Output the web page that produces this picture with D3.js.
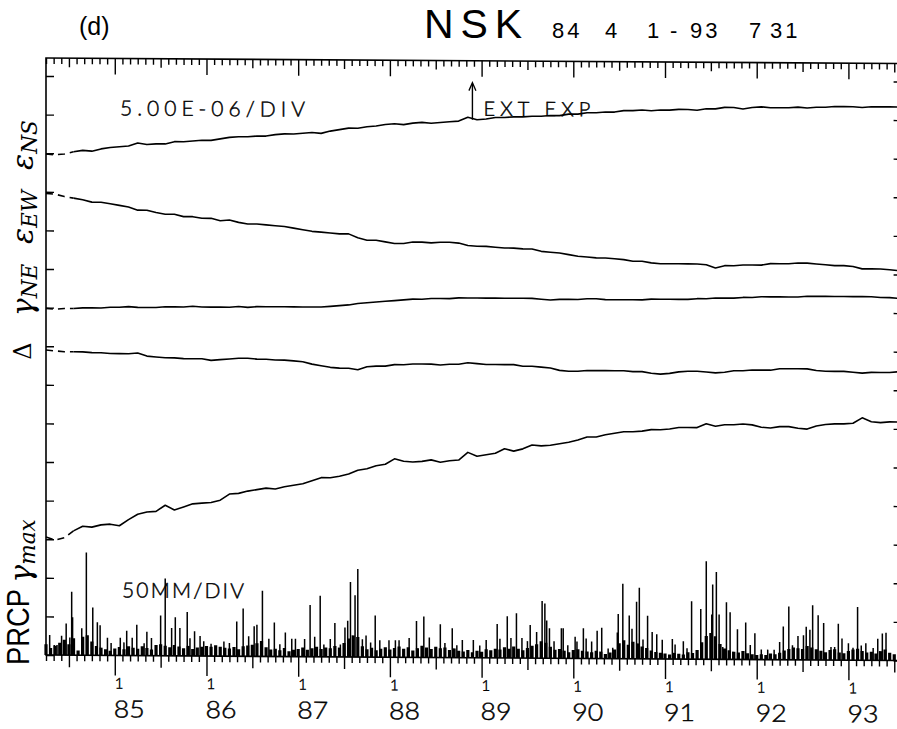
<!DOCTYPE html>
<html><head><meta charset="utf-8">
<script src="https://cdn.jsdelivr.net/npm/d3@7"></script>
<style>
body{margin:0;background:#fff;}
svg{display:block;}
.lt{font-family:Lato, "Liberation Sans", sans-serif;font-weight:300;fill:#000;stroke:#000;stroke-width:0.45;}
</style></head><body>
<svg id="c" width="897" height="729"></svg>
<script>
// ---- DATA (strain in 1e-6, plotted on a common 5e-6/DIV scale; time in decimal years 19xx) ----
const seriesStart = 84.25, seriesStep = 0.1;
const epsNS = [64.9,64.8,64.9,65.2,65.4,65.3,65.6,65.8,65.9,66.0,66.4,66.2,66.3,66.3,66.6,66.6,66.7,66.8,66.8,67.0,
67.2,67.3,67.3,67.4,67.4,67.6,67.7,67.7,67.8,67.9,67.8,68.1,68.3,68.5,68.5,68.7,68.8,69.0,69.1,69.0,
69.2,69.3,69.2,69.3,69.4,69.5,70.0,69.7,69.8,70.0,70.0,70.1,70.1,70.2,70.2,70.3,70.3,70.5,70.5,70.7,
70.7,70.8,70.8,71.0,71.0,71.1,71.0,71.1,71.1,71.2,71.2,71.1,71.3,71.3,71.5,71.5,71.3,71.5,71.6,71.5,
71.5,71.5,71.6,71.5,71.6,71.6,71.7,71.7,71.7,71.6,71.7,71.7,71.7,71.7];
const epsEW = [59.8,59.7,59.4,59.2,59.0,58.7,58.7,58.5,58.3,58.1,57.7,57.7,57.4,57.2,57.2,56.9,56.9,56.7,56.7,56.4,
56.5,56.2,56.0,56.0,55.9,55.8,55.7,55.5,55.3,55.1,55.0,54.9,54.8,54.8,54.3,54.0,54.0,53.8,53.6,53.6,
53.8,53.8,53.7,53.8,53.8,53.7,53.4,53.3,53.3,53.2,53.1,53.1,53.0,53.0,52.7,52.6,52.5,52.3,52.1,52.0,
51.9,51.9,51.8,51.7,51.5,51.5,51.3,51.2,51.2,51.2,51.2,51.2,51.1,50.7,51.0,51.0,51.1,51.1,51.1,51.3,
51.3,51.3,51.4,51.4,51.3,51.2,51.1,51.1,51.0,50.7,50.7,50.7,50.6,50.5];
const gamNE = [44.9,44.8,44.9,44.9,45.0,45.0,45.0,45.1,45.1,45.2,45.1,45.1,45.1,45.2,45.2,45.2,45.3,45.2,45.2,45.2,
45.2,45.3,45.2,45.3,45.3,45.3,45.3,45.3,45.3,45.3,45.3,45.4,45.5,45.6,45.8,45.9,46.0,46.1,46.2,46.3,
46.4,46.4,46.5,46.5,46.5,46.6,46.6,46.6,46.6,46.6,46.6,46.6,46.6,46.6,46.5,46.4,46.5,46.5,46.5,46.6,
46.6,46.5,46.5,46.5,46.5,46.5,46.6,46.6,46.6,46.6,46.6,46.7,46.7,46.8,46.8,46.8,46.9,46.9,47.0,47.0,
47.0,47.0,47.0,47.1,47.1,47.1,47.1,47.1,47.1,47.1,47.1,47.0,47.0,46.9];
const dilat = [39.5,39.4,39.3,39.3,39.3,39.2,39.2,39.1,39.1,39.1,39.2,38.8,38.7,38.6,38.6,38.5,38.5,38.5,38.3,38.4,
38.5,38.6,38.6,38.5,38.5,38.4,38.4,38.3,38.2,37.9,37.7,37.5,37.4,37.4,37.2,37.6,37.7,37.7,37.9,37.9,
38.0,38.0,38.0,37.9,38.0,38.0,38.2,38.1,38.0,38.0,38.0,38.0,37.8,37.8,37.7,37.6,37.3,37.2,37.2,37.3,
37.3,37.3,37.3,37.3,37.2,37.2,37.0,36.9,37.0,37.2,37.3,37.3,37.2,37.1,37.2,37.4,37.4,37.5,37.5,37.5,
37.7,37.7,37.7,37.7,37.5,37.4,37.4,37.4,37.3,37.2,37.3,37.3,37.3,37.4];
const gamMax = [15.3,14.9,15.2,16.1,16.7,16.6,16.9,17.0,16.8,17.6,18.3,18.6,18.7,19.5,18.9,19.3,19.7,19.8,19.9,20.2,
21.0,21.1,21.4,21.6,21.8,21.7,22.0,22.2,22.4,22.8,23.2,23.2,23.4,23.7,24.2,24.4,24.8,25.0,25.7,25.4,
25.3,25.4,25.6,25.3,25.5,25.6,26.6,26.1,26.3,26.5,27.1,26.8,27.1,27.6,27.5,27.6,27.8,28.0,28.3,28.7,
28.7,29.0,29.2,29.4,29.4,29.5,29.7,29.7,29.8,30.0,30.0,30.0,30.5,30.2,30.4,30.4,30.5,30.4,30.1,30.0,
30.2,30.2,30.0,29.9,30.3,30.5,30.6,30.6,30.7,31.4,30.9,30.8,30.9,30.9];
const dashedPoints = 4;

// precipitation, mm (background at 0.05-yr steps, plus individual heavy days)
const rainStart = 84.25, rainStep = 0.05;
const rainBg = [14,9,12,16,20,14,22,6,24,26,18,12,10,8,6,9,11,8,12,10,
9,12,10,8,14,15,13,11,14,12,10,13,9,11,12,13,12,14,12,11,
10,12,9,13,14,15,17,20,12,9,10,8,11,7,9,10,12,9,11,13,
10,12,11,14,12,18,24,28,26,14,10,12,9,11,13,10,12,14,11,13,
9,12,15,13,11,14,12,13,10,12,9,8,10,7,9,8,11,10,12,11,
14,12,15,12,10,13,16,18,22,20,15,11,12,10,8,11,12,10,9,8,
10,9,6,8,12,20,24,18,22,20,16,14,11,9,8,7,6,8,7,6,
9,8,12,22,30,34,30,20,14,12,10,9,11,8,7,6,7,6,8,7,
9,12,14,16,15,14,18,16,14,12,10,13,14,10,9,12,14,15,12,10,
11,9,12,14,10,8,6];
const rainDays = [
[84.29,26],[84.34,13],[84.37,13],[84.42,25],[84.47,41],[84.51,23],[84.53,82],[84.54,49],[84.64,35],[84.69,133],
[84.76,62],[84.81,43],[84.84,39],[84.92,23],[84.96,16],[85.06,23],[85.10,17],[85.13,32],[85.19,23],[85.24,40],
[85.32,16],[85.35,31],[85.40,23],[85.50,52],[85.55,100],[85.62,36],[85.66,50],[85.71,36],[85.79,57],[85.82,23],
[85.87,32],[85.93,26],[85.97,19],[86.05,16],[86.19,19],[86.25,17],[86.33,45],[86.40,62],[86.46,26],[86.52,39],
[86.55,41],[86.61,85],[86.68,23],[86.74,44],[86.80,16],[86.86,31],[86.93,23],[86.97,23],[87.07,23],[87.13,67],
[87.18,26],[87.24,79],[87.28,16],[87.35,23],[87.40,44],[87.46,16],[87.51,38],[87.54,47],[87.57,97],[87.62,80],
[87.65,114],[87.70,23],[87.74,28],[87.79,19],[87.84,54],[87.89,22],[87.99,22],[88.06,22],[88.10,22],[88.21,25],
[88.29,47],[88.37,53],[88.43,26],[88.55,43],[88.60,19],[88.68,38],[88.73,16],[88.79,23],[88.91,23],[88.98,16],
[89.05,23],[89.17,44],[89.20,25],[89.28,54],[89.32,26],[89.38,58],[89.44,26],[89.50,22],[89.53,43],[89.60,34],
[89.66,74],[89.69,71],[89.71,49],[89.74,39],[89.79,22],[89.87,39],[89.89,39],[89.94,17],[90.02,28],[90.04,22],
[90.11,39],[90.14,26],[90.20,22],[90.26,36],[90.31,40],[90.38,13],[90.43,14],[90.48,34],[90.49,58],[90.54,97],
[90.61,56],[90.64,39],[90.69,74],[90.72,92],[90.76,25],[90.81,56],[90.86,35],[90.91,32],[90.97,25],[91.08,26],
[91.11,19],[91.20,23],[91.24,14],[91.29,75],[91.35,8],[91.39,65],[91.45,127],[91.51,58],[91.52,97],[91.56,113],
[91.59,58],[91.63,16],[91.67,74],[91.71,61],[91.74,10],[91.79,39],[91.88,48],[91.93,19],[91.98,34],[92.05,13],
[92.12,13],[92.19,13],[92.25,23],[92.29,43],[92.35,69],[92.39,19],[92.45,31],[92.51,32],[92.54,43],[92.58,39],
[92.61,71],[92.67,58],[92.73,48],[92.81,17],[92.85,17],[92.89,47],[92.93,28],[93.00,22],[93.05,16],[93.10,69],
[93.14,19],[93.19,22],[93.27,16],[93.32,28],[93.37,35],[93.41,36]];

const yearTicks = [85,86,87,88,89,90,91,92,93];
const yearLabels = ["85","86","87","88","89","90","91","92","93"];
const extExpTime = 88.9;
const divStrain = 5;      // 1e-6 per division
const divRain = 50;       // mm per division

// ---- DRAWING ----
const svg = d3.select("#c");
const x = d3.scaleLinear().domain([84.25, 93.58]).range([46, 901.6]);
const y = d3.scaleLinear().domain([0, 77.33]).range([655, 58]);
const yR = d3.scaleLinear().domain([0, 77.33*divRain/divStrain]).range([655, 58]);
const sans = "Liberation Sans, Arial, sans-serif";

// title
svg.append("text").attr("x",79).attr("y",35).attr("font-family",sans).attr("font-size",25).text("(d)");
svg.append("text").attr("x",424).attr("y",38).attr("font-family",sans).attr("font-size",41)
  .attr("textLength",98).attr("lengthAdjust","spacing").text("NSK");
const dateTokens = [["84",552],["4",605],["1",647],["-",670],["93",690],["7",749],["31",770]];
svg.selectAll("text.dt").data(dateTokens).enter().append("text").attr("class","dt")
  .attr("x",d=>d[1]).attr("y",38).attr("font-family",sans).attr("font-size",22)
  .attr("letter-spacing",3).text(d=>d[0]);

const g = svg.append("g").attr("transform","translate(46,0) skewY(0.37) translate(-46,0)");

// frame
g.append("rect").attr("x",x.range()[0]).attr("y",y.range()[1]).attr("width",x.range()[1]-x.range()[0])
  .attr("height",y.range()[0]-y.range()[1]).attr("fill","none").attr("stroke","#000").attr("stroke-width",1.6);

const months = d3.range(0, Math.floor((93.58-84.25)*12)+1).map(m=>84.25+m/12);
const isYear = t => Math.abs(t-Math.round(t))<1e-6;
const isHalf = t => Math.abs(t-Math.floor(t)-0.5)<1e-6;
const minorT = months.filter(t=>!isYear(t)&&!isHalf(t));
const halfT = months.filter(isHalf);
const yearT = months.filter(isYear);

function xAxis(vals, size, yPos){
  const a = g.append("g").attr("transform",`translate(0,${yPos})`)
    .call(d3.axisBottom(x).tickValues(vals).tickSize(size).tickFormat(""));
  a.select(".domain").remove();
  a.selectAll("line").attr("stroke","#000").attr("stroke-width",1.4);
}
xAxis(minorT,6,58); xAxis(halfT,9,58); xAxis(yearT,16,58);
xAxis(minorT,6,655); xAxis(halfT,12,655); xAxis(yearT,20,655);

const yTickVals = d3.range(0, 76, divStrain);
const la = g.append("g").attr("transform",`translate(${x.range()[0]},0)`)
  .call(d3.axisRight(y).tickValues(yTickVals).tickSize(8).tickFormat(""));
la.select(".domain").remove(); la.selectAll("line").attr("stroke","#000").attr("stroke-width",1.4);
const ra = g.append("g").attr("transform",`translate(${x.range()[1]},0)`)
  .call(d3.axisLeft(y).tickValues(yTickVals).tickSize(8).tickFormat(""));
ra.select(".domain").remove(); ra.selectAll("line").attr("stroke","#000").attr("stroke-width",1.4);

// year labels
yearTicks.forEach((yr,i)=>{
  g.append("text").attr("class","lt").attr("x",x(yr)).attr("y",688).attr("font-size",15).text("1");
  g.append("text").attr("class","lt").attr("x",x(yr)-1).attr("y",717)
    .attr("font-size",24).attr("textLength",31).attr("lengthAdjust","spacingAndGlyphs").text(yearLabels[i]);
});

// strain series
const line = d3.line().x(d=>x(d.t)).y(d=>y(d.v));
[epsNS, epsEW, gamNE, dilat, gamMax].forEach(arr=>{
  const pts = arr.map((v,i)=>({t:seriesStart+i*seriesStep, v}));
  g.append("path").attr("d",line(pts.slice(0,dashedPoints))).attr("fill","none").attr("stroke","#000")
    .attr("stroke-width",1.6).attr("stroke-dasharray","7,5");
  g.append("path").attr("d",line(pts.slice(dashedPoints-1))).attr("fill","none").attr("stroke","#000")
    .attr("stroke-width",1.6).attr("stroke-linejoin","round");
});

// precipitation
g.selectAll("line.bg").data(rainBg).enter().append("line").attr("class","bg")
  .attr("x1",(d,i)=>x(rainStart+i*rainStep)).attr("x2",(d,i)=>x(rainStart+i*rainStep))
  .attr("y1",yR(0)).attr("y2",d=>yR(d)).attr("stroke","#000").attr("stroke-width",3.2);
g.selectAll("line.rd").data(rainDays).enter().append("line").attr("class","rd")
  .attr("x1",d=>x(d[0])).attr("x2",d=>x(d[0]))
  .attr("y1",yR(0)).attr("y2",d=>yR(d[1])).attr("stroke","#000").attr("stroke-width",1.5);

// annotations
g.append("text").attr("class","lt").attr("x",120).attr("y",115).attr("font-size",21)
  .attr("textLength",185).attr("lengthAdjust","spacing").text("5.00E-06/DIV");
g.append("text").attr("class","lt").attr("x",122).attr("y",597).attr("font-size",21)
  .attr("textLength",122).attr("lengthAdjust","spacing").text("50MM/DIV");
const iExt = Math.round((extExpTime-seriesStart)/seriesStep);
const yExt = y(epsNS[iExt]);
g.append("line").attr("x1",x(extExpTime)).attr("x2",x(extExpTime)).attr("y1",yExt).attr("y2",yExt-36)
  .attr("stroke","#000").attr("stroke-width",1.4);
g.append("path").attr("d",`M${x(extExpTime)-3.5},${yExt-29} L${x(extExpTime)},${yExt-37} L${x(extExpTime)+3.5},${yExt-29}`)
  .attr("fill","none").attr("stroke","#000").attr("stroke-width",1.3);
g.append("text").attr("class","lt").attr("x",x(extExpTime)+11).attr("y",yExt-4).attr("font-size",20)
  .attr("textLength",107).attr("lengthAdjust","spacing").text("EXT EXP");

// left labels (rotated)
function vlabel(cy, cx, parts, size){
  const t = svg.append("text").attr("transform",`translate(${cx},${cy}) rotate(-90)`).attr("text-anchor","middle")
    .attr("font-family","DejaVu Serif, Liberation Serif, serif").attr("font-size",size);
  parts.forEach(p=>{
    const ts = t.append("tspan").text(p.s);
    if(p.italic) ts.attr("font-style","italic");
    if(p.sub) ts.attr("font-size",size*0.72).attr("dy",p.dy||0);
  });
  return t;
}
vlabel(145, 33, [{s:"ε",italic:true},{s:"NS",italic:true,sub:true,dy:4}], 30);
vlabel(217, 33, [{s:"ε",italic:true},{s:"EW",italic:true,sub:true,dy:4}], 30);
vlabel(290, 33, [{s:"γ",italic:true},{s:"NE",italic:true,sub:true,dy:4}], 30);
vlabel(351, 31, [{s:"Δ"}], 24);
vlabel(551, 31, [{s:"γ",italic:true},{s:"max",italic:true,sub:true,dy:4}], 30);
svg.append("text").attr("transform","translate(29,627) rotate(-90)").attr("text-anchor","middle")
  .attr("font-family",sans).attr("font-size",31).attr("textLength",76).attr("lengthAdjust","spacingAndGlyphs").text("PRCP");
</script>
</body></html>
